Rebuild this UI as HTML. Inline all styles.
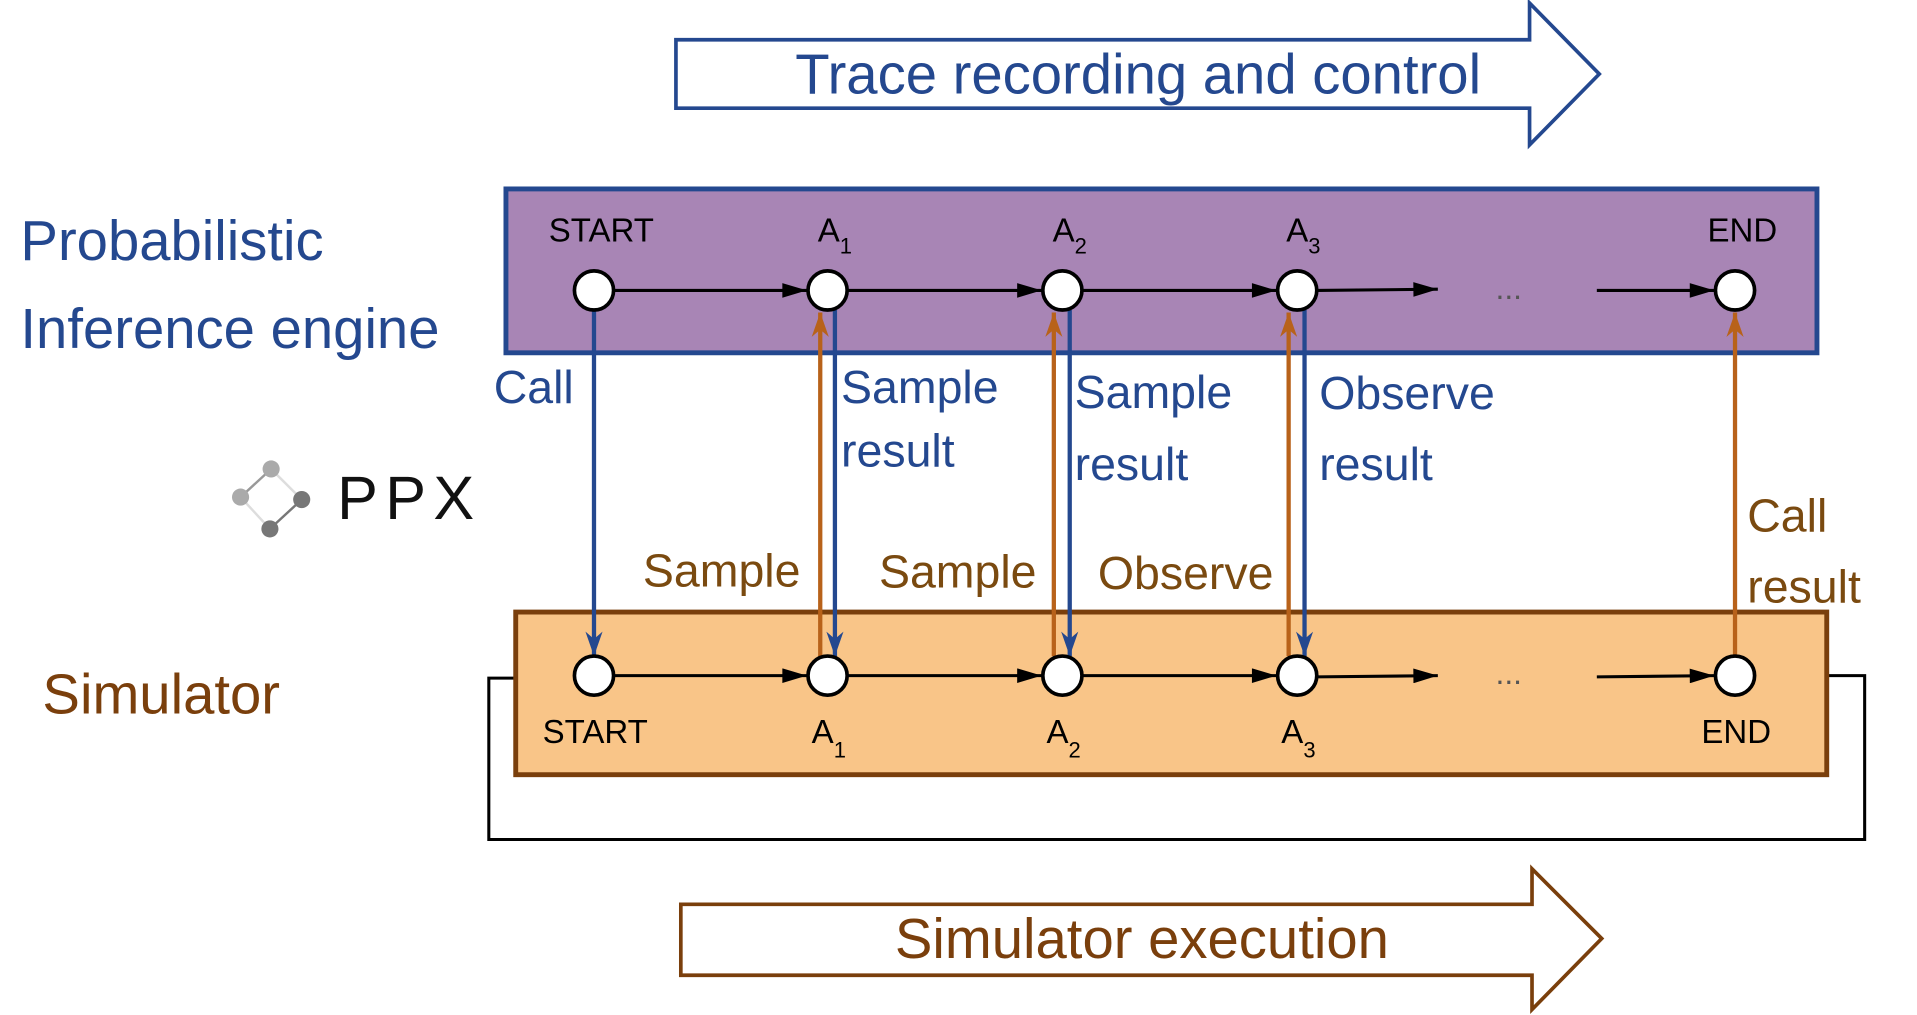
<!DOCTYPE html>
<html><head><meta charset="utf-8"><style>html,body{margin:0;padding:0;background:#fff}svg{display:block}</style></head>
<body>
<svg width="1917" height="1015" viewBox="-0.7 0.5 1567.5 830" preserveAspectRatio="none" font-family="'Liberation Sans', sans-serif">
<defs>
<marker id="kb" viewBox="0 0 20 12" markerWidth="22" markerHeight="12" refX="20" refY="6" orient="auto" markerUnits="userSpaceOnUse"><path d="M0,0 L20,6 L0,12 z" fill="#000"/></marker>
<marker id="bb" viewBox="0 0 20 14" markerWidth="22" markerHeight="14" refX="20" refY="7" orient="auto" markerUnits="userSpaceOnUse"><path d="M0,0 L20,7 L0,14 L6,7 z" fill="#24488f"/></marker>
<marker id="ob" viewBox="0 0 20 14" markerWidth="22" markerHeight="14" refX="20" refY="7" orient="auto" markerUnits="userSpaceOnUse"><path d="M0,0 L20,7 L0,14 L6,7 z" fill="#b8621a"/></marker>
</defs>

<path d="M552,33 L1250,33 L1250,3 L1307,61 L1250,119 L1250,89 L552,89 Z" fill="#fff" stroke="#24488f" stroke-width="3"/>
<text x="930" y="77" font-size="46" fill="#24488f" text-anchor="middle">Trace recording and control</text>

<path d="M556,740 L1252,740 L1252,711 L1309,768 L1252,826 L1252,798 L556,798 Z" fill="#fff" stroke="#7a3f0c" stroke-width="3"/>
<text x="933" y="784" font-size="46" fill="#7a3f0c" text-anchor="middle">Simulator execution</text>

<text x="16" y="213" font-size="46" fill="#24488f">Probabilistic</text>
<text x="16" y="285" font-size="46" fill="#24488f">Inference engine</text>
<text x="34" y="584" font-size="46" fill="#7a3f0c">Simulator</text>

<g>
<line x1="221" y1="384" x2="196" y2="407" stroke="#999" stroke-width="2"/>
<line x1="221" y1="384" x2="246" y2="409" stroke="#ddd" stroke-width="2"/>
<line x1="196" y1="407" x2="220" y2="433" stroke="#ddd" stroke-width="2"/>
<line x1="246" y1="409" x2="220" y2="433" stroke="#777" stroke-width="2"/>
<circle cx="221" cy="384" r="7" fill="#aaa"/>
<circle cx="196" cy="407" r="7" fill="#aaa"/>
<circle cx="246" cy="409" r="7" fill="#777"/>
<circle cx="220" cy="433" r="7" fill="#777"/>
<text x="275" y="425" font-size="50" fill="#111" letter-spacing="6">PPX</text>
</g>

<polyline points="1434,553 1524,553 1524,687 399,687 399,555 468,555" fill="none" stroke="#000" stroke-width="2.5" marker-end="url(#kb)"/>

<rect x="413" y="155" width="1072" height="134" fill="#a885b5" stroke="#24488f" stroke-width="4"/>
<rect x="421" y="501" width="1072" height="133" fill="#f9c588" stroke="#7a3f0c" stroke-width="4"/>

<g stroke="#000" stroke-width="2.5" marker-end="url(#kb)">
<line x1="501" y1="238" x2="659" y2="238"/><line x1="692" y1="238" x2="851" y2="238"/><line x1="884" y1="238" x2="1043" y2="238"/><line x1="1076" y1="238" x2="1175" y2="237"/><line x1="1305" y1="238" x2="1401" y2="238"/>
<line x1="501" y1="553" x2="659" y2="553"/><line x1="692" y1="553" x2="851" y2="553"/><line x1="884" y1="553" x2="1043" y2="553"/><line x1="1076" y1="554" x2="1175" y2="553"/><line x1="1305" y1="554" x2="1401" y2="553"/>
</g>
<text x="1233" y="245" font-size="26" fill="#555" text-anchor="middle">...</text>
<text x="1233" y="560" font-size="26" fill="#555" text-anchor="middle">...</text>

<g stroke="#24488f" stroke-width="3.5" marker-end="url(#bb)">
<line x1="485" y1="254" x2="485" y2="537"/><line x1="682" y1="254" x2="682" y2="537"/><line x1="874" y1="254" x2="874" y2="537"/><line x1="1066" y1="254" x2="1066" y2="537"/>
</g>
<g stroke="#b8621a" stroke-width="3.5" marker-end="url(#ob)">
<line x1="670" y1="537" x2="670" y2="256"/><line x1="861" y1="537" x2="861" y2="256"/><line x1="1053" y1="537" x2="1053" y2="256"/><line x1="1418" y1="537" x2="1418" y2="256"/>
</g>

<g fill="#fff" stroke="#000" stroke-width="3">
<circle cx="485" cy="238" r="16"/><circle cx="676" cy="238" r="16"/><circle cx="868" cy="238" r="16"/><circle cx="1060" cy="238" r="16"/><circle cx="1418" cy="238" r="16"/>
<circle cx="485" cy="553" r="16"/><circle cx="676" cy="553" r="16"/><circle cx="868" cy="553" r="16"/><circle cx="1060" cy="553" r="16"/><circle cx="1418" cy="553" r="16"/>
</g>

<g font-size="27" fill="#000" text-anchor="middle">
<text x="491" y="198">START</text><text x="1424" y="198">END</text>
<text x="486" y="608">START</text><text x="1419" y="608">END</text>
</g>
<g font-size="27" fill="#000">
<text x="668" y="198">A<tspan font-size="18" dy="10">1</tspan></text>
<text x="860" y="198">A<tspan font-size="18" dy="10">2</tspan></text>
<text x="1051" y="198">A<tspan font-size="18" dy="10">3</tspan></text>
<text x="663" y="608">A<tspan font-size="18" dy="12">1</tspan></text>
<text x="855" y="608">A<tspan font-size="18" dy="12">2</tspan></text>
<text x="1047" y="608">A<tspan font-size="18" dy="12">3</tspan></text>
</g>

<g font-size="38" fill="#24488f">
<text x="403" y="330">Call</text>
<text x="687" y="330">Sample</text><text x="687" y="382">result</text>
<text x="878" y="334">Sample</text><text x="878" y="393">result</text>
<text x="1078" y="335">Observe</text><text x="1078" y="393">result</text>
</g>
<g font-size="38" fill="#7a4a10">
<text x="525" y="480">Sample</text>
<text x="718" y="481">Sample</text>
<text x="897" y="482">Observe</text>
<text x="1428" y="435">Call</text>
<text x="1428" y="493">result</text>
</g>
</svg>
</body></html>
